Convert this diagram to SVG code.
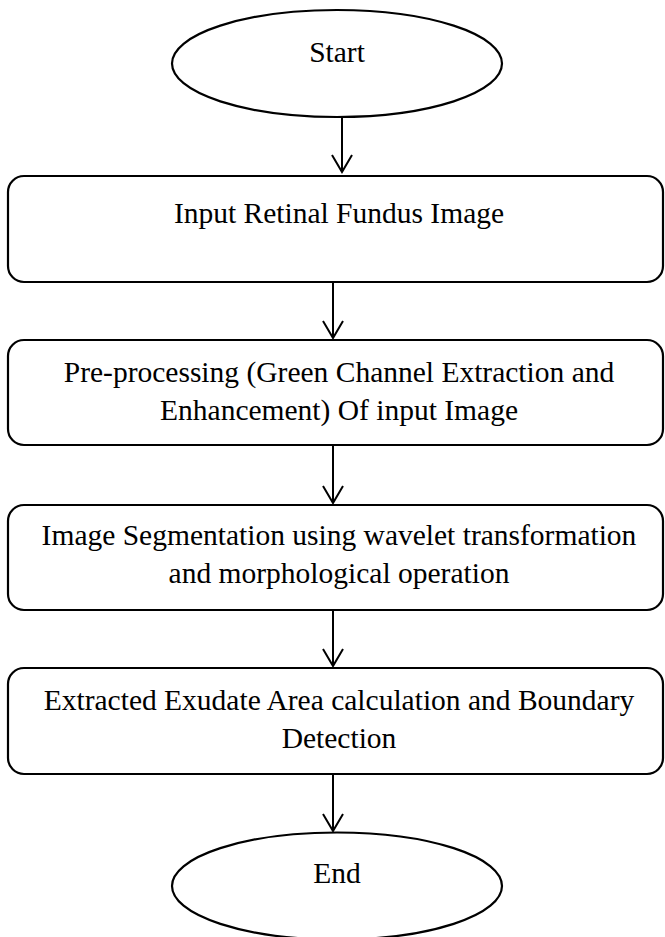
<svg xmlns="http://www.w3.org/2000/svg" width="665" height="937" viewBox="0 0 665 937">
<style>
.s{fill:#fff;stroke:#000;stroke-width:2.2}
.t{font-family:"Liberation Serif","Times New Roman",serif;font-size:29.5px;fill:#000;text-anchor:middle}
.c{fill:none;stroke:#000;stroke-width:2}
</style>
<rect width="665" height="937" fill="#fff"/>
<g id="start"><ellipse class="s" cx="337" cy="63.5" rx="165" ry="53.5"/><text class="t" x="337" y="62">Start</text></g>
<g id="input"><rect class="s" x="8" y="176" width="655" height="106" rx="16"/><text class="t" x="339" y="223">Input Retinal Fundus Image</text></g>
<g id="preprocess"><rect class="s" x="8" y="340" width="655" height="105" rx="16"/><text class="t" x="339" y="382">Pre-processing (Green Channel Extraction and</text><text class="t" x="339" y="420">Enhancement) Of input Image</text></g>
<g id="segment"><rect class="s" x="8" y="505" width="655" height="105" rx="16"/><text class="t" x="339" y="545">Image Segmentation using wavelet transformation</text><text class="t" x="339" y="583">and morphological operation</text></g>
<g id="extract"><rect class="s" x="8" y="668" width="655" height="106" rx="16"/><text class="t" x="339" y="710">Extracted Exudate Area calculation and Boundary</text><text class="t" x="339" y="748">Detection</text></g>
<g id="end"><ellipse class="s" cx="337" cy="886" rx="165" ry="53.5"/><text class="t" x="337" y="883">End</text></g>
<g id="connectors">
<path class="c" d="M342 117V172M332 155L342 172L352 155"/>
<path class="c" d="M333 282V338M323 321L333 338L343 321"/>
<path class="c" d="M333 445V503M323 486L333 503L343 486"/>
<path class="c" d="M333 610V666M323 649L333 666L343 649"/>
<path class="c" d="M333 774V831M323 814L333 831L343 814"/>
</g>
</svg>
